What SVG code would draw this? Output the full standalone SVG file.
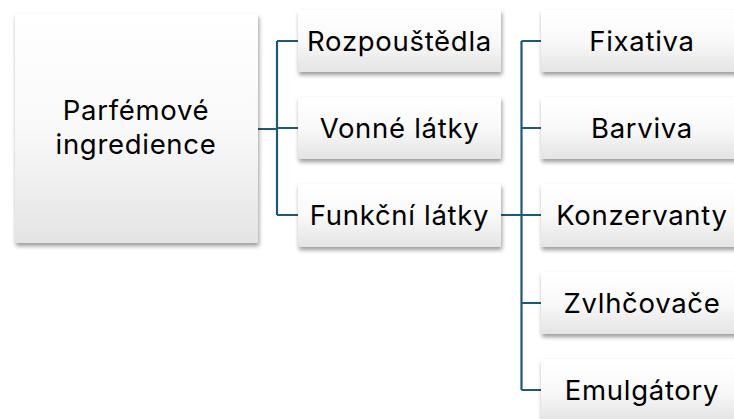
<svg xmlns="http://www.w3.org/2000/svg" width="734" height="419" viewBox="0 0 734 419">
<defs>
<linearGradient id="g" x1="0" y1="0" x2="0" y2="1">
<stop offset="0" stop-color="#ffffff"/>
<stop offset="0.5" stop-color="#f9f9f9"/>
<stop offset="1" stop-color="#e4e4e4"/>
</linearGradient>
<filter id="sh" x="-10%" y="-10%" width="130%" height="140%">
<feDropShadow dx="1" dy="3" stdDeviation="2" flood-color="#000" flood-opacity="0.4"/>
</filter>
<style>
.box{fill:url(#g);filter:url(#sh);}
.t{font-family:Inter,"Liberation Sans",sans-serif;font-size:27.5px;font-weight:400;letter-spacing:0.7px;fill:#000;text-anchor:middle;}
.c{fill:none;stroke:#1d5a78;stroke-width:2.2;}
</style>
</defs>
<rect width="734" height="419" fill="#fff"/>
<g id="connectors">
<path class="c" d="M258 129H277M277 41V215M277 41H298M277 128H298M277 215H298"/>
<path class="c" d="M501 215H521.5M521.5 41V390M521.5 41H541M521.5 128H541M521.5 215H541M521.5 303H541M521.5 390H541"/>
</g>
<g id="root"><rect class="box" x="15" y="14" width="243" height="229"/>
<text class="t" x="136" y="120">Parfémové</text><text class="t" x="136" y="154">ingredience</text></g>
<g id="rozpoustedla"><rect class="box" x="298" y="10" width="203" height="62"/><text class="t" x="399.5" y="51">Rozpouštědla</text></g>
<g id="vonne"><rect class="box" x="298" y="97" width="203" height="62"/><text class="t" x="399.5" y="138">Vonné látky</text></g>
<g id="funkcni"><rect class="box" x="298" y="184" width="203" height="63"/><text class="t" x="399.5" y="225">Funkční látky</text></g>
<g id="fixativa"><rect class="box" x="541" y="10" width="203" height="62"/><text class="t" x="642" y="51">Fixativa</text></g>
<g id="barviva"><rect class="box" x="541" y="97" width="203" height="62"/><text class="t" x="642" y="138">Barviva</text></g>
<g id="konzervanty"><rect class="box" x="541" y="184" width="203" height="63"/><text class="t" x="642" y="225">Konzervanty</text></g>
<g id="zvlhcovace"><rect class="box" x="541" y="272" width="203" height="62"/><text class="t" x="642" y="313">Zvlhčovače</text></g>
<g id="emulgatory"><rect class="box" x="541" y="359" width="203" height="62"/><text class="t" x="642" y="400">Emulgátory</text></g>
</svg>
